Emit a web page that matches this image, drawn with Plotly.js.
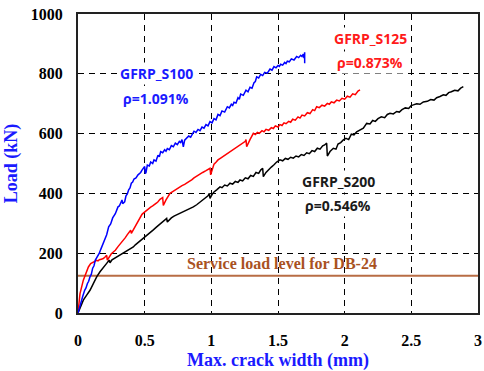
<!DOCTYPE html>
<html>
<head>
<meta charset="utf-8">
<script src="https://cdn.plot.ly/plotly-3.0.1.min.js"></script>
<style>html,body{margin:0;padding:0;background:#fff;}#chart{width:484px;height:371px;}</style>
</head>
<body>
<div id="chart"></div>
<script>
// GFRP_S100 (rho = 1.091%)
const s100Crack = [0, 0.01, 0.02, 0.035, 0.05, 0.06, 0.07, 0.08, 0.09, 0.10, 0.11, 0.12, 0.13, 0.14, 0.15, 0.16, 0.17, 0.185, 0.20, 0.215, 0.23, 0.245, 0.26, 0.28, 0.30, 0.31, 0.32, 0.33, 0.335, 0.35, 0.36, 0.37, 0.38, 0.39, 0.40, 0.41, 0.42, 0.435, 0.45, 0.46, 0.47, 0.48, 0.49, 0.50, 0.505, 0.51,
  0.52, 0.535, 0.545, 0.56, 0.57, 0.585, 0.60, 0.61, 0.62, 0.635, 0.65, 0.66, 0.67, 0.685, 0.70, 0.715, 0.73, 0.745, 0.76, 0.77, 0.78, 0.785, 0.79, 0.80, 0.815, 0.83, 0.845, 0.87, 0.885, 0.90, 0.915, 0.93, 0.945, 0.96, 0.975, 0.99, 1.005, 1.02, 1.035, 1.05, 1.065, 1.08, 1.10, 1.12, 1.135, 1.15, 1.16, 1.17, 1.185, 1.20, 1.21, 1.22, 1.24, 1.26, 1.275, 1.29, 1.305, 1.32, 1.33, 1.34, 1.355, 1.37, 1.385, 1.40, 1.42, 1.44, 1.455, 1.47, 1.485, 1.50, 1.51, 1.52, 1.535, 1.55, 1.56, 1.57, 1.585, 1.60, 1.62, 1.64, 1.655, 1.67, 1.68, 1.69, 1.695, 1.70, 1.70];
const s100Load  = [0, 18, 35, 55, 76, 84, 98, 106, 121, 130, 150, 158, 177, 184, 195, 200, 212, 228, 250, 262, 288, 298, 318, 332, 355, 358, 368, 378, 366, 372, 392, 398, 412, 418, 434, 438, 448, 452, 462, 466, 470, 478, 486, 490, 466, 470,
  495, 492, 505, 500, 512, 508, 528, 522, 540, 536, 546, 541, 550, 546, 560, 556, 568, 563, 574, 570, 580, 565, 556, 578, 586, 592, 588, 608, 604, 614, 610, 622, 618, 630, 626, 640, 636, 650, 646, 664, 660, 676, 672, 690, 686, 698, 694, 705, 702, 720, 715, 732, 728, 745, 740, 755, 752, 770, 774, 790, 786, 798, 794, 805, 802, 816, 812, 824, 820, 828, 825, 832, 829, 838, 834, 842, 840, 850, 846, 858, 854, 862, 858, 866, 852, 872, 835];
// GFRP_S125 (rho = 0.873%)
const s125Crack = [0, 0.015, 0.04, 0.06, 0.078, 0.095, 0.115, 0.13, 0.14, 0.15, 0.16, 0.175, 0.19, 0.205, 0.215, 0.22, 0.24, 0.25, 0.265, 0.28, 0.30, 0.32, 0.34, 0.355, 0.37, 0.385, 0.395, 0.40, 0.405, 0.42, 0.43, 0.45, 0.465, 0.48, 0.49, 0.50, 0.515, 0.53, 0.545, 0.56, 0.575, 0.59, 0.60, 0.615, 0.635, 0.64, 0.66, 0.675, 0.69, 0.71, 0.73, 0.75, 0.765, 0.78, 0.80, 0.815, 0.84, 0.855, 0.87, 0.89, 0.915, 0.935, 0.96, 0.975, 0.99, 0.995, 1.02, 1.035, 1.05, 1.07, 1.09, 1.11, 1.13, 1.15, 1.165, 1.18, 1.20, 1.22, 1.24, 1.255, 1.26, 1.265, 1.29,
  1.30, 1.315, 1.33, 1.345, 1.36, 1.38, 1.395, 1.41, 1.43, 1.45, 1.465, 1.48, 1.50, 1.515, 1.53, 1.545, 1.56, 1.58, 1.595, 1.61, 1.63, 1.65, 1.665, 1.68, 1.70, 1.72, 1.74, 1.76, 1.775, 1.79, 1.81, 1.83, 1.85, 1.87, 1.885, 1.90, 1.92, 1.94, 1.96, 1.98, 2.00, 2.02, 2.04, 2.06, 2.08, 2.10, 2.115];
const s125Load  = [0, 65, 110, 135, 154, 165, 171, 174, 176, 174, 178, 180, 182, 188, 193, 177, 192, 198, 204, 210, 222, 232, 244, 252, 262, 270, 277, 266, 270, 282, 290, 308, 322, 330, 334, 338, 344, 348, 354, 358, 362, 368, 372, 380, 386, 360, 378, 390, 400, 406, 412, 416, 422, 426, 430, 434, 442, 446, 452, 458, 467, 470, 476, 480, 484, 462, 498, 504, 512, 518, 524, 530, 536, 540, 545, 550, 556, 562, 568, 574, 580, 556, 580,
  590, 601, 597, 604, 601, 610, 606, 614, 611, 620, 617, 626, 622, 630, 627, 636, 633, 641, 638, 648, 645, 656, 652, 662, 659, 670, 667, 680, 677, 690, 687, 695, 692, 701, 698, 706, 703, 712, 709, 718, 715, 725, 722, 733, 730, 742, 746];
// GFRP_S200 (rho = 0.546%)
const s200Crack = [0, 0.02, 0.04, 0.065, 0.09, 0.115, 0.14, 0.165, 0.19, 0.215, 0.235, 0.24, 0.255, 0.27, 0.29, 0.315, 0.335, 0.36, 0.385, 0.415, 0.43, 0.45, 0.47, 0.49, 0.515, 0.54, 0.565, 0.59, 0.61, 0.63, 0.65, 0.665, 0.67, 0.685, 0.70, 0.72, 0.74, 0.765, 0.79, 0.815, 0.84, 0.865, 0.89, 0.92, 0.94, 0.96, 0.975, 0.985, 0.99, 1.005, 1.02, 1.04, 1.065,
  1.08, 1.10, 1.12, 1.14, 1.16, 1.18, 1.20, 1.215, 1.235, 1.255, 1.275, 1.295, 1.315, 1.335, 1.355, 1.37, 1.385, 1.39, 1.41, 1.43, 1.45, 1.47, 1.49, 1.515, 1.535, 1.555, 1.575, 1.595, 1.615, 1.635, 1.655, 1.675, 1.695, 1.715, 1.735, 1.755, 1.775, 1.795, 1.815, 1.835, 1.85, 1.865, 1.87, 1.89, 1.915, 1.935, 1.95, 1.97, 1.99,
  2.01, 2.03, 2.05, 2.07, 2.09, 2.115, 2.14, 2.165, 2.19, 2.21, 2.23, 2.25, 2.275, 2.30, 2.32, 2.34, 2.365, 2.39, 2.41, 2.43, 2.455, 2.48, 2.50, 2.515, 2.54, 2.565, 2.59, 2.62, 2.645, 2.67, 2.69, 2.715, 2.74, 2.76, 2.78, 2.80, 2.825, 2.85, 2.87, 2.89];
const s200Load  = [0, 22, 43, 60, 76, 98, 121, 138, 154, 166, 177, 168, 178, 182, 188, 193, 198, 205, 212, 221, 228, 235, 242, 249, 258, 268, 278, 288, 296, 302, 310, 316, 304, 312, 318, 324, 328, 333, 338, 344, 350, 355, 362, 372, 378, 385, 392, 400, 383, 396, 405, 412, 422,
  419, 428, 425, 434, 431, 440, 437, 445, 442, 452, 449, 460, 457, 470, 467, 478, 484, 456, 470, 480, 488, 496, 505, 512, 509, 517, 514, 521, 518, 525, 522, 530, 527, 536, 533, 543, 540, 551, 548, 559, 562, 568, 525, 540, 551, 548, 565, 570, 579,
  584, 580, 598, 596, 606, 612, 618, 634, 632, 644, 641, 650, 656, 653, 664, 668, 666, 674, 672, 680, 686, 684, 694, 696, 700, 698, 706, 708, 714, 712, 720, 724, 730, 728, 737, 740, 745, 743, 752, 757];

const serviceLoad = 125;
const serviceLabel = 'Service load level for DB-24';
const xTicks = [0, 0.5, 1, 1.5, 2, 2.5, 3];
const xTickText = ['0', '0.5', '1', '1.5', '2', '2.5', '3'];
const yTicks = [0, 200, 400, 600, 800, 1000];

const specimenLabels = [
  {name: 'GFRP_S100', rho: '\u03c1=1.091%', x: 0.585, y: 800, y2: 719, color: '#1a1aff'},
  {name: 'GFRP_S125', rho: '\u03c1=0.873%', x: 2.19, y: 917, y2: 837, color: '#ff1a1a'},
  {name: 'GFRP_S200', rho: '\u03c1=0.546%', x: 1.95, y: 441, y2: 360, color: '#1a1a1a'}
];

const traces = [
  {x: [0, 3], y: [serviceLoad, serviceLoad], mode: 'lines', line: {color: '#b86d45', width: 2}, hoverinfo: 'skip'},
  {x: s200Crack, y: s200Load, mode: 'lines', line: {color: '#000000', width: 1.5}},
  {x: s125Crack, y: s125Load, mode: 'lines', line: {color: '#ff0000', width: 1.5}},
  {x: s100Crack, y: s100Load, mode: 'lines', line: {color: '#0000ff', width: 1.5}}
];

const annotations = [];
specimenLabels.forEach(s => {
  const f = {family: 'Open Sans, sans-serif', size: 14, color: s.color, weight: 'bold'};
  annotations.push({x: s.x, y: s.y, xref: 'x', yref: 'y', text: s.name, showarrow: false, font: f, bgcolor: '#ffffff', borderpad: 1});
  annotations.push({x: s.x, y: s.y2, xref: 'x', yref: 'y', text: s.rho, showarrow: false, font: f, bgcolor: '#ffffff', borderpad: 1});
});
annotations.push({x: 1.53, y: 166, xref: 'x', yref: 'y', text: '<b>' + serviceLabel + '</b>', showarrow: false,
  font: {family: 'Liberation Serif, Times New Roman, serif', size: 16, color: '#a9521f'}});

const tickFont = {family: 'Liberation Serif, Times New Roman, serif', size: 16, color: '#000', weight: 'bold'};
const titleFont = {family: 'Liberation Serif, Times New Roman, serif', size: 18, color: '#1a1aff', weight: 'bold'};

const layout = {
  width: 484, height: 371,
  margin: {l: 78, r: 6, t: 14, b: 58},
  paper_bgcolor: '#fff', plot_bgcolor: '#fff',
  showlegend: false,
  xaxis: {
    range: [0, 3], tickvals: xTicks, ticktext: xTickText, tickfont: tickFont,
    showgrid: true, gridcolor: '#000', griddash: '6px,5px', gridwidth: 1,
    zeroline: false, showline: true, mirror: true, linecolor: '#222', linewidth: 2,
    ticks: '', ticklabelstandoff: 12,
    title: {text: '<b>Max. crack width (mm)</b>', font: titleFont, standoff: 6}
  },
  yaxis: {
    range: [0, 1000], tickvals: yTicks, tickfont: tickFont,
    showgrid: true, gridcolor: '#000', griddash: '6px,5px', gridwidth: 1,
    zeroline: false, showline: true, mirror: true, linecolor: '#222', linewidth: 2,
    ticks: '', ticklabelstandoff: 10,
    title: {text: '<b>Load (kN)</b>', font: titleFont, standoff: 8}
  },
  annotations: annotations
};

Plotly.newPlot('chart', traces, layout, {displayModeBar: false, staticPlot: true});
</script>
</body>
</html>
